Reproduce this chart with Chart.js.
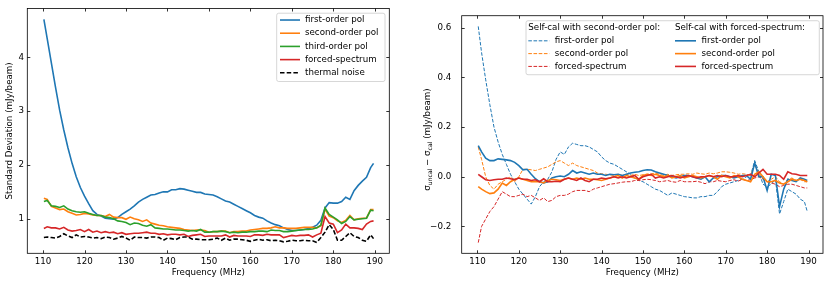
<!DOCTYPE html>
<html>
<head>
<meta charset="utf-8">
<script src="https://cdn.jsdelivr.net/npm/chart.js@4"></script>
<style>
  html, body { margin: 0; padding: 0; background: #fff; }
  #wrap { position: relative; width: 830px; height: 284px; background: #fff; }
  .box { position: absolute; top: 0; height: 284px; }
</style>
</head>
<body>
<div id="wrap">
  <div class="box" style="left:0;width:395px"><canvas id="leftChart"></canvas></div>
  <div class="box" style="left:415px;width:415px"><canvas id="rightChart"></canvas></div>
</div>
<script>
// ---- data (~1 MHz sampling) ----
const freq = [
  110.2, 111, 112, 113, 114, 115, 116, 117, 118, 119,
  120, 121, 122, 123, 124, 125, 126, 127, 128, 129,
  130, 131, 132, 133, 134, 135, 136, 137, 138, 139,
  140, 141, 142, 143, 144, 145, 146, 147, 148, 149,
  150, 151, 152, 153, 154, 155, 156, 157, 158, 159,
  160, 161, 162, 163, 164, 165, 166, 167, 168, 169,
  170, 171, 172, 173, 174, 175, 176, 177, 178, 179,
  180, 181, 182, 183, 184, 185, 186, 187, 188, 189,
  189.7
];

// left panel: standard deviation (mJy/beam)
const stdFirstOrder = [
  4.71, 4.35, 3.9, 3.45, 3.02, 2.65, 2.32, 2.03, 1.78, 1.58,
  1.42, 1.28, 1.15, 1.08, 1.05, 1.01, 1.0, 0.99, 1.02, 1.08,
  1.13, 1.18, 1.24, 1.31, 1.36, 1.4, 1.44, 1.45, 1.48, 1.5,
  1.5, 1.54, 1.54, 1.56, 1.55, 1.53, 1.51, 1.49, 1.49, 1.46,
  1.45, 1.44, 1.41, 1.37, 1.33, 1.31, 1.27, 1.23, 1.19, 1.15,
  1.11, 1.06, 1.03, 1.01, 0.96, 0.92, 0.89, 0.87, 0.83, 0.8,
  0.78, 0.78, 0.79, 0.8, 0.82, 0.84, 0.88, 0.97, 1.2, 1.3,
  1.29, 1.29, 1.32, 1.4, 1.36, 1.52, 1.62, 1.7, 1.77, 1.95,
  2.03
];
const stdSecondOrder = [
  1.38, 1.36, 1.23, 1.2, 1.17, 1.18, 1.13, 1.1, 1.07, 1.08,
  1.1, 1.09, 1.07, 1.06, 1.06, 1.04, 1.08, 1.03, 1.02, 1.02,
  0.99, 1.03, 1.0, 0.98, 0.95, 0.98, 0.92, 0.9, 0.88, 0.87,
  0.85, 0.84, 0.83, 0.82, 0.8, 0.79, 0.78, 0.79, 0.79, 0.78,
  0.75, 0.76, 0.76, 0.77, 0.77, 0.74, 0.76, 0.76, 0.77, 0.77,
  0.79, 0.8, 0.81, 0.82, 0.82, 0.83, 0.85, 0.83, 0.83, 0.82,
  0.82, 0.82, 0.83, 0.84, 0.84, 0.84, 0.83, 0.87, 1.18, 1.05,
  1.02, 0.96, 0.93, 0.97, 1.06, 0.98, 1.0, 1.01, 1.01, 1.17,
  1.17
];
const stdThirdOrder = [
  1.32, 1.34, 1.24, 1.23, 1.21, 1.24, 1.18, 1.15, 1.13, 1.12,
  1.13, 1.1, 1.08, 1.06, 1.06, 1.03, 1.02, 1.0, 0.96, 0.95,
  0.93, 0.89, 0.92, 0.91, 0.88, 0.86, 0.89, 0.83, 0.82, 0.81,
  0.81, 0.8, 0.79, 0.79, 0.78, 0.77, 0.78, 0.77, 0.8, 0.75,
  0.75, 0.76, 0.76, 0.77, 0.76, 0.74, 0.75, 0.74, 0.75, 0.75,
  0.76, 0.76, 0.77, 0.77, 0.76, 0.79, 0.78, 0.78, 0.76, 0.76,
  0.77, 0.78, 0.79, 0.8, 0.8, 0.81, 0.83, 0.88, 1.2, 1.08,
  1.03, 0.98, 0.91, 0.95, 1.04, 0.98, 0.99, 1.0, 1.01, 1.16,
  1.15
];
const stdForced = [
  0.82, 0.85, 0.83, 0.83, 0.81, 0.84, 0.79, 0.77, 0.78, 0.8,
  0.76, 0.8, 0.75, 0.77, 0.74, 0.76, 0.74, 0.75, 0.72, 0.74,
  0.71, 0.72, 0.73, 0.73, 0.74, 0.75, 0.73, 0.73, 0.71, 0.72,
  0.7, 0.71, 0.71, 0.7, 0.71, 0.67, 0.69, 0.7, 0.71, 0.67,
  0.68, 0.68, 0.68, 0.68, 0.7, 0.66, 0.69, 0.68, 0.68, 0.68,
  0.67, 0.7, 0.7, 0.69, 0.71, 0.7, 0.7, 0.7, 0.65, 0.67,
  0.69, 0.68, 0.69, 0.69, 0.7, 0.66, 0.7, 0.73, 1.04, 0.92,
  0.9, 0.74, 0.79, 0.9, 0.83, 0.83, 0.82, 0.8, 0.9, 0.95,
  0.96
];
const stdThermal = [
  0.65, 0.66, 0.65, 0.64, 0.67, 0.72, 0.68, 0.65, 0.7, 0.66,
  0.67, 0.66, 0.64, 0.65, 0.63, 0.66, 0.65, 0.62, 0.64, 0.67,
  0.64, 0.6, 0.66, 0.65, 0.65, 0.64, 0.66, 0.66, 0.65, 0.6,
  0.64, 0.63, 0.61, 0.65, 0.66, 0.66, 0.62, 0.62, 0.61, 0.61,
  0.61, 0.62, 0.64, 0.6, 0.64, 0.6, 0.62, 0.62, 0.61, 0.6,
  0.58, 0.6, 0.62, 0.6, 0.61, 0.59, 0.6, 0.59, 0.57, 0.58,
  0.6, 0.59, 0.59, 0.6, 0.59, 0.59, 0.56, 0.65, 0.75, 0.89,
  0.8, 0.6, 0.6, 0.67, 0.74, 0.67, 0.65, 0.6, 0.58, 0.7,
  0.63
];

// right panel: sigma_uncal - sigma_cal, self-cal with second-order pol (dashed)
const dSecFirst = [
  0.605, 0.5, 0.39, 0.29, 0.2, 0.14, 0.09, 0.05, 0.01, -0.02,
  -0.05, -0.07, -0.09, -0.11, -0.08, -0.04, -0.02, -0.01, 0.02, 0.07,
  0.1, 0.09, 0.12, 0.135, 0.13, 0.125, 0.125, 0.12, 0.11, 0.1,
  0.08, 0.065, 0.055, 0.05, 0.04, 0.03, 0.02, 0.01, -0.005, -0.015,
  -0.02, -0.03, -0.04, -0.05, -0.055, -0.065, -0.075, -0.065, -0.07, -0.075,
  -0.08, -0.082, -0.085, -0.085, -0.08, -0.08, -0.075, -0.075, -0.06, -0.04,
  -0.03, -0.025, -0.02, -0.015, -0.01, 0.0, 0.005, 0.065, 0.02, -0.03,
  -0.04, -0.03, -0.01, -0.15, -0.1, -0.05, -0.06, -0.07, -0.09, -0.1,
  -0.14
];
const dSecSecond = [
  0.12, 0.07, 0.0, -0.035, -0.05, -0.03, -0.02, -0.01, 0.0, -0.02,
  0.0, 0.03, 0.03, 0.028, 0.025, 0.03, 0.035, 0.04, 0.05, 0.06,
  0.065, 0.055, 0.045, 0.055, 0.045, 0.04, 0.035, 0.03, 0.025, 0.015,
  0.012, 0.01, 0.008, 0.005, 0.01, 0.005, 0.01, 0.005, 0.01, 0.005,
  0.008, 0.01, 0.012, 0.015, 0.01, 0.005, 0.01, 0.005, 0.008, 0.01,
  0.01, 0.012, 0.01, 0.015, 0.012, 0.01, 0.015, 0.012, 0.015, 0.02,
  0.02, 0.018, 0.015, 0.01, 0.012, 0.01, 0.005, 0.05, 0.01, -0.01,
  -0.02, -0.01, 0.0, -0.02, -0.03, -0.01, -0.005, -0.015, -0.01, -0.02,
  -0.02
];
const dSecForced = [
  -0.265, -0.2, -0.17, -0.14, -0.12, -0.09, -0.06, -0.07, -0.08, -0.08,
  -0.075, -0.07, -0.08, -0.075, -0.085, -0.095, -0.085, -0.1, -0.095, -0.08,
  -0.075, -0.075, -0.07, -0.06, -0.055, -0.055, -0.055, -0.06, -0.05, -0.045,
  -0.04, -0.035, -0.03, -0.028, -0.025, -0.022, -0.02, -0.02, -0.015, -0.015,
  -0.012, -0.01, -0.012, -0.015, -0.02, -0.018, -0.015, -0.02, -0.022, -0.015,
  -0.02, -0.02, -0.02, -0.018, -0.022, -0.028, -0.02, -0.02, -0.015, -0.018,
  -0.02, -0.015, -0.012, -0.018, -0.01, -0.015, -0.012, -0.005, 0.0, -0.01,
  -0.02, -0.025, -0.03, -0.04, -0.035, -0.03, -0.03, -0.035, -0.04, -0.045,
  -0.045
];
// self-cal with forced-spectrum (solid)
const dForFirst = [
  0.125, 0.1, 0.075, 0.065, 0.065, 0.072, 0.07, 0.068, 0.065, 0.058,
  0.045, 0.028, 0.03, 0.01, -0.008, -0.02, -0.025, -0.02, -0.005, 0.0,
  0.003, 0.0, 0.01, 0.025, 0.015, 0.02, 0.015, 0.01, 0.015, 0.01,
  0.01, 0.005, 0.01, 0.008, 0.01, 0.005, 0.01, 0.015, 0.018, 0.02,
  0.025, 0.028, 0.027, 0.02, 0.015, 0.01, 0.005, 0.0, -0.005, 0.0,
  0.005, 0.005, 0.0, -0.005, -0.01, 0.0, -0.02, -0.005, 0.0, 0.005,
  0.005, 0.0, -0.005, 0.0, 0.005, 0.005, -0.01, 0.055, 0.0, 0.0,
  -0.055, 0.01, 0.005, -0.12, -0.05, -0.01, -0.015, -0.02, -0.005, -0.01,
  -0.015
];
const dForSecond = [
  -0.04, -0.05, -0.06, -0.068, -0.065, -0.05, -0.025, -0.035, -0.02, -0.01,
  -0.005, -0.01, -0.015, -0.02, -0.02, -0.02, -0.025, -0.015, -0.01, -0.012,
  -0.015, -0.01, -0.005, -0.01, -0.005, -0.01, -0.005, -0.01, -0.01, -0.012,
  -0.015, -0.01, -0.005, 0.0, 0.005, -0.005, 0.005, 0.0, -0.005, -0.01,
  0.005, 0.01, 0.005, 0.01, 0.005, 0.0, 0.005, -0.005, 0.0, 0.005,
  -0.005, 0.0, 0.005, 0.0, -0.005, 0.0, 0.005, 0.0, -0.01, 0.005,
  0.0, -0.005, 0.005, 0.0, -0.01, -0.015, -0.02, 0.01, 0.02, 0.0,
  -0.02, -0.02, -0.015, -0.025, -0.03, -0.02, -0.01, -0.015, -0.01, -0.015,
  -0.02
];
const dForForced = [
  0.01, 0.0, -0.012, -0.015, -0.012, -0.01, -0.01, -0.005, -0.008, -0.012,
  -0.005, -0.01, -0.01, -0.015, -0.012, -0.02, -0.008, -0.02, -0.02, -0.018,
  -0.02, -0.01, -0.005, -0.01, -0.015, -0.005, -0.015, -0.02, -0.01, -0.01,
  -0.005, -0.008, -0.005, 0.0, -0.005, 0.0, -0.005, 0.0, 0.005, -0.01,
  0.0, 0.005, 0.01, -0.005, 0.0, -0.005, 0.0, 0.005, 0.0, -0.005,
  0.0, 0.005, 0.0, -0.005, 0.0, 0.0, 0.005, 0.0, 0.005, 0.0,
  0.005, 0.0, 0.0, 0.005, 0.0, 0.005, 0.01, 0.0, 0.015, 0.03,
  0.01, 0.01, 0.01, 0.005, -0.01, 0.02, 0.012, 0.01, 0.005, 0.005,
  0.005
];

const leftLabels = ['first-order pol', 'second-order pol', 'third-order pol', 'forced-spectrum', 'thermal noise'];
const rightLabels = ['first-order pol', 'second-order pol', 'forced-spectrum'];
const rightHeaders = ['Self-cal with second-order pol:', 'Self-cal with forced-spectrum:'];
const xTicks = [110, 120, 130, 140, 150, 160, 170, 180, 190];
const leftYTicks = [1, 2, 3, 4];
const rightYTicks = [-0.2, 0.0, 0.2, 0.4, 0.6];

// ---- styling ----
const FONT = 'DejaVu Sans';
const FS = 8.7;
const col = { blue: '#1f77b4', orange: '#ff7f0e', green: '#2ca02c', red: '#d62728', black: '#000000' };
const TICK_LEN = 3;

Chart.defaults.font.family = FONT;
Chart.defaults.font.size = FS;
Chart.defaults.color = '#000';

function series(label, ys, color, width, dash, i) {
  return {
    label: label,
    data: freq.map((f, k) => ({ x: f, y: ys[k] })),
    borderColor: color, backgroundColor: color,
    borderWidth: width, borderDash: dash || [],
    pointRadius: 0, tension: 0, fill: false,
    order: -i  // later series drawn on top, like matplotlib
  };
}

function fmtMinus(v) { return v < 0 ? '\u2212' + Math.abs(v).toFixed(1) : v.toFixed(1); }

// frame with inward ticks on all four sides + a legend + optional custom y title
function frameLegendPlugin(drawLegend, drawYTitle) {
  return {
    id: 'frameLegend',
    afterDraw(chart) {
      const { ctx, chartArea: a } = chart;
      const x = chart.scales.x, y = chart.scales.y;
      ctx.save();
      ctx.strokeStyle = '#000';
      ctx.lineWidth = 0.8;
      ctx.strokeRect(a.left, a.top, a.right - a.left, a.bottom - a.top);
      ctx.beginPath();
      x.ticks.forEach(t => {
        const px = Math.round(x.getPixelForValue(t.value)) + 0.5;
        ctx.moveTo(px, a.bottom); ctx.lineTo(px, a.bottom - TICK_LEN);
        ctx.moveTo(px, a.top); ctx.lineTo(px, a.top + TICK_LEN);
      });
      y.ticks.forEach(t => {
        const py = Math.round(y.getPixelForValue(t.value)) + 0.5;
        ctx.moveTo(a.left, py); ctx.lineTo(a.left + TICK_LEN, py);
        ctx.moveTo(a.right, py); ctx.lineTo(a.right - TICK_LEN, py);
      });
      ctx.stroke();
      drawLegend(chart, ctx, a);
      if (drawYTitle) drawYTitle(ctx, a);
      ctx.restore();
    }
  };
}

function legendBox(ctx, l, t, w, h) {
  ctx.save();
  ctx.beginPath();
  ctx.roundRect(l, t, w, h, 2);
  ctx.fillStyle = 'rgba(255,255,255,0.8)';
  ctx.fill();
  ctx.strokeStyle = '#cccccc';
  ctx.lineWidth = 0.8;
  ctx.stroke();
  ctx.restore();
}

function legendEntry(ctx, ds, x0, x1, tx, yy) {
  ctx.save();
  ctx.strokeStyle = ds.borderColor;
  ctx.lineWidth = ds.borderWidth;
  ctx.setLineDash(ds.borderDash || []);
  ctx.beginPath();
  ctx.moveTo(x0, yy); ctx.lineTo(x1, yy);
  ctx.stroke();
  ctx.restore();
  ctx.fillStyle = '#000';
  ctx.font = FS + 'px "' + FONT + '"';
  ctx.textBaseline = 'middle';
  ctx.textAlign = 'left';
  ctx.fillText(ds.label, tx, yy);
}

function leftLegend(chart, ctx, a) {
  const w = 108.3, h = 68.3;
  const l = a.right - 4.3 - w, t = a.top + 4.7;
  legendBox(ctx, l, t, w, h);
  chart.data.datasets.forEach((ds, i) => {
    legendEntry(ctx, ds, l + 3.3, l + 23.3, l + 28.3, t + 6.8 + 13.2 * i);
  });
}

function rightLegend(chart, ctx, a) {
  const w = 293.3, h = 54;
  const l = a.right - 3.7 - w, t = a.top + 5;
  legendBox(ctx, l, t, w, h);
  const colX = [l + 2.3, l + 149];
  ctx.fillStyle = '#000';
  ctx.font = FS + 'px "' + FONT + '"';
  ctx.textBaseline = 'middle';
  rightHeaders.forEach((txt, c) => ctx.fillText(txt, colX[c], t + 7.3));
  chart.data.datasets.forEach((ds, i) => {
    const c = Math.floor(i / 3), r = i % 3;
    legendEntry(ctx, ds, colX[c], colX[c] + 21, colX[c] + 26.5, t + 20.1 + 12.8 * r);
  });
}

// sigma_uncal - sigma_cal with real subscripts
function rightYTitle(ctx, a) {
  const parts = [
    ['\u03c3', false], ['uncal', true], [' \u2212 \u03c3', false], ['cal', true], [' (mJy/beam)', false]
  ];
  const big = FS + 'px "' + FONT + '"', small = (FS * 0.7).toFixed(2) + 'px "' + FONT + '"';
  let total = 0;
  parts.forEach(p => { ctx.font = p[1] ? small : big; total += ctx.measureText(p[0]).width; });
  ctx.save();
  ctx.translate(a.left - 33.7, 139.5);
  ctx.rotate(-Math.PI / 2);
  ctx.fillStyle = '#000';
  ctx.textBaseline = 'middle';
  ctx.textAlign = 'left';
  let cx = -total / 2;
  parts.forEach(p => {
    ctx.font = p[1] ? small : big;
    ctx.fillText(p[0], cx, p[1] ? 2 : 0);
    cx += ctx.measureText(p[0]).width;
  });
  ctx.restore();
}

function makeChart(id, datasets, opt) {
  return new Chart(document.getElementById(id), {
    type: 'line',
    data: { datasets: datasets },
    options: {
      responsive: true, maintainAspectRatio: false, animation: false, devicePixelRatio: 1,
      layout: { padding: opt.padding },
      plugins: { legend: { display: false }, tooltip: { enabled: false } },
      scales: {
        x: {
          type: 'linear', min: 106.2, max: 193.5,
          grid: { display: false, drawTicks: false }, border: { display: false },
          afterBuildTicks: s => { s.ticks = xTicks.map(v => ({ value: v })); },
          afterFit: s => { s.height = 30.7; },
          ticks: { padding: 3, maxRotation: 0, callback: v => String(v) },
          title: { display: true, text: 'Frequency (MHz)', padding: { top: 0, bottom: 6.1 } }
        },
        y: {
          type: 'linear', min: opt.yMin, max: opt.yMax,
          grid: { display: false, drawTicks: false }, border: { display: false },
          afterBuildTicks: s => { s.ticks = opt.yTicks.map(v => ({ value: v })); },
          afterFit: s => { s.width = opt.yWidth; },
          ticks: { padding: opt.yPad, callback: opt.yFmt },
          title: opt.yTitle
        }
      }
    },
    plugins: [frameLegendPlugin(opt.legend, opt.customYTitle)]
  });
}

const leftSets = [
  series(leftLabels[0], stdFirstOrder, col.blue, 1.6, null, 0),
  series(leftLabels[1], stdSecondOrder, col.orange, 1.6, null, 1),
  series(leftLabels[2], stdThirdOrder, col.green, 1.6, null, 2),
  series(leftLabels[3], stdForced, col.red, 1.6, null, 3),
  series(leftLabels[4], stdThermal, col.black, 1.6, [4.5, 2.2], 4)
];

const rightSets = [
  series(rightLabels[0], dSecFirst, col.blue, 1.0, [3.6, 1.6], 0),
  series(rightLabels[1], dSecSecond, col.orange, 1.0, [3.6, 1.6], 1),
  series(rightLabels[2], dSecForced, col.red, 1.0, [3.6, 1.6], 2),
  series(rightLabels[0], dForFirst, col.blue, 1.6, null, 3),
  series(rightLabels[1], dForSecond, col.orange, 1.6, null, 4),
  series(rightLabels[2], dForForced, col.red, 1.6, null, 5)
];

makeChart('leftChart', leftSets, {
  padding: { top: 6, right: 5.7, left: 0, bottom: 0 },
  yMin: 0.357, yMax: 4.91, yTicks: leftYTicks, yWidth: 27.3, yPad: 3.3,
  yFmt: v => String(v),
  yTitle: { display: true, text: 'Standard Deviation (mJy/beam)', padding: { top: 4.8, bottom: 0 } },
  legend: leftLegend
});

makeChart('rightChart', rightSets, {
  padding: { top: 6.7, right: 7, left: 0, bottom: 0 },
  yMin: -0.308, yMax: 0.648, yTicks: rightYTicks, yWidth: 46.7, yPad: 10.5,
  yFmt: fmtMinus,
  yTitle: { display: false },
  legend: rightLegend,
  customYTitle: rightYTitle
});
</script>
</body>
</html>
